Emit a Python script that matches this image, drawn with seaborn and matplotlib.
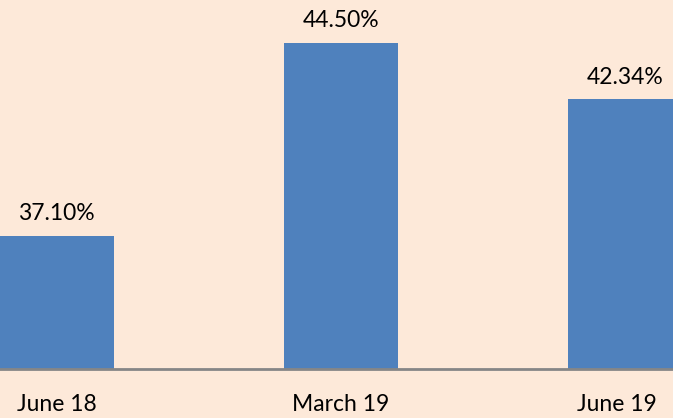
import matplotlib
matplotlib.use("Agg")
import matplotlib.pyplot as plt
import matplotlib.transforms as mtransforms
import seaborn as sns
import pandas as pd

categories = ["June 18", "March 19", "June 19"]
values = [37.10, 44.50, 42.34]
labels = ["37.10%", "44.50%", "42.34%"]

sns.set_style("white")
plt.rcParams['font.family'] = ['Lato', 'DejaVu Sans']

bg = "#FDE9D9"
fs = 16.5
fig = plt.figure(figsize=(6.73, 4.18), dpi=100, facecolor=bg)
ax = fig.add_axes([0, 49/418, 1, 1 - 49/418])
ax.set_facecolor(bg)

df = pd.DataFrame({"cat": categories, "val": values})
sns.barplot(data=df, x="cat", y="val", color="#4F81BD", saturation=1, width=0.4,
            linewidth=0, ax=ax)

ax.set_ylim(32, 46.15)
ax.set_xlim(-0.2, 2.17)
for p, v, l in zip(ax.patches, values, labels):
    ax.text(p.get_x() + p.get_width() / 2, v + 0.45, l, ha="center", va="bottom",
            fontsize=fs, color="#000000")

for s in ["top", "left", "right"]:
    ax.spines[s].set_visible(False)
ax.spines["bottom"].set_color("#868686")
ax.spines["bottom"].set_linewidth(2)
ax.set_yticks([])
ax.set_xlabel("")
ax.set_ylabel("")
ax.tick_params(axis="x", length=0, pad=18, labelsize=fs, labelcolor="#000000")
# last label nudged left to stay inside the chart
lbl = ax.get_xticklabels()[-1]
lbl.set_transform(lbl.get_transform() + mtransforms.ScaledTranslation(-8/100, 0, fig.dpi_scale_trans))
fig.savefig("out.png", dpi=100, facecolor=bg)
